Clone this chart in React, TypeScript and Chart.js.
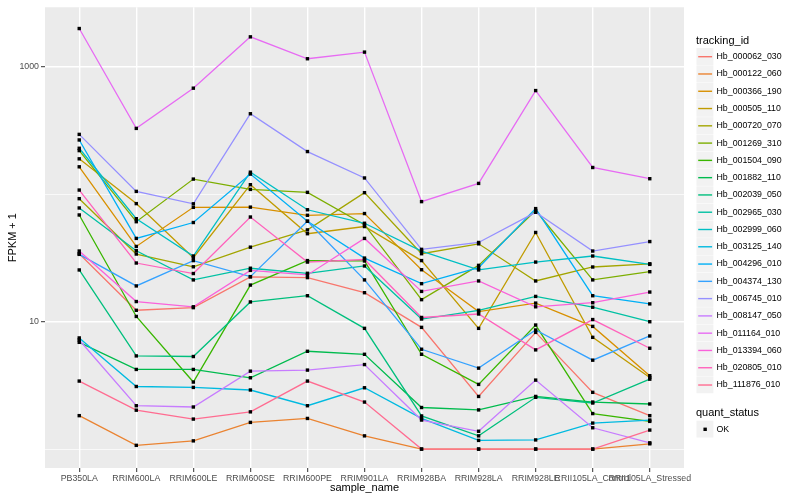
import React, { useEffect, useRef } from "react";
import { Chart, registerables } from "chart.js";

Chart.register(...registerables);

// ---------- data ----------
const sampleNames = [
  "PB350LA", "RRIM600LA", "RRIM600LE", "RRIM600SE", "RRIM600PE", "RRIM901LA",
  "RRIM928BA", "RRIM928LA", "RRIM928LE", "RRII105LA_Control", "RRII105LA_Stressed",
];

const trackingIds = [
  "Hb_000062_030", "Hb_000122_060", "Hb_000366_190", "Hb_000505_110", "Hb_000720_070",
  "Hb_001269_310", "Hb_001504_090", "Hb_001882_110", "Hb_002039_050", "Hb_002965_030",
  "Hb_002999_060", "Hb_003125_140", "Hb_004296_010", "Hb_004374_130", "Hb_006745_010",
  "Hb_008147_050", "Hb_011164_010", "Hb_013394_060", "Hb_020805_010", "Hb_111876_010",
];

const hb000062_030 = [34.2, 12.3, 12.9, 22.5, 22.2, 16.9, 9.03, 2.59, 8.25, 2.79, 1.83];
const hb000122_060 = [1.83, 1.07, 1.16, 1.62, 1.74, 1.27, 1, 1, 1, 1, 1.1];
const hb000366_190 = [164.6, 39.0, 79.1, 79.4, 68.5, 70.7, 25.6, 12.0, 14.0, 9.19, 3.77];
const hb000505_110 = [190.1, 84.6, 31.8, 119.1, 49.1, 55.9, 30.2, 8.87, 50.2, 7.54, 3.65];
const hb000720_070 = [92.5, 34.0, 27.0, 38.5, 52.6, 103.1, 34.2, 40.9, 20.9, 26.9, 28.5];
const hb001269_310 = [220.6, 61.0, 131.8, 109.4, 103.7, 57.8, 14.9, 27.7, 74.6, 21.3, 24.7];
const hb001504_090 = [68.9, 11.0, 3.36, 19.4, 30.2, 30.0, 5.55, 3.22, 9.42, 1.9, 1.65];
const hb001882_110 = [6.89, 4.22, 4.22, 3.63, 5.86, 5.55, 2.12, 2.03, 2.59, 2.34, 2.26];
const hb002039_050 = [25.5, 5.39, 5.33, 14.3, 16.0, 8.87, 1.82, 1.27, 2.55, 2.3, 3.54];
const hb002965_030 = [78.2, 36.1, 21.3, 26.3, 24.0, 27.4, 10.5, 12.3, 15.8, 13.0, 10.0];
const hb002999_060 = [230.1, 64.4, 32.8, 149.3, 75.7, 59.3, 35.9, 25.5, 29.4, 32.8, 28.2];
const hb003125_140 = [7.46, 3.1, 3.05, 2.91, 2.19, 3.03, 1.74, 1.17, 1.18, 1.6, 1.69];
const hb004296_010 = [267.4, 45.1, 60.1, 144.2, 61.5, 31.6, 19.9, 26.6, 77.3, 16.0, 13.8];
const hb004374_130 = [33.8, 19.1, 30.2, 22.6, 61.5, 21.3, 6.08, 4.32, 8.61, 4.99, 7.73];
const hb006745_010 = [295.8, 105.5, 84.3, 429.5, 216.8, 134.5, 37.0, 41.9, 72.3, 35.9, 42.6];
const hb008147_050 = [7.19, 2.19, 2.14, 4.09, 4.17, 4.61, 1.69, 1.38, 3.48, 1.47, 1.12];
const hb011164_010 = [2005, 329.6, 682, 1725, 1161, 1309, 87.7, 121.9, 653, 162.5, 132.7];
const hb013394_060 = [35.9, 14.4, 13.1, 25.3, 23.3, 45.1, 17.3, 20.9, 13.1, 14.1, 17.1];
const hb020805_010 = [108.1, 28.9, 23.9, 66.4, 29.4, 30.8, 10.8, 11.5, 6.01, 10.4, 6.19];
const hb111876_010 = [3.42, 2.02, 1.72, 1.96, 3.42, 2.34, 1, 1, 1, 1, 1.41];

const seriesValues = [
  hb000062_030, hb000122_060, hb000366_190, hb000505_110, hb000720_070,
  hb001269_310, hb001504_090, hb001882_110, hb002039_050, hb002965_030,
  hb002999_060, hb003125_140, hb004296_010, hb004374_130, hb006745_010,
  hb008147_050, hb011164_010, hb013394_060, hb020805_010, hb111876_010,
];

const yGridValues = [1, 10, 100, 1000];
const yTickLabels = ["", "10", "", "1000"];
const quantStatus = ["OK"];

// ---------- styles ----------
const colors = [
  "#F8766D", "#EA8331", "#D89000", "#C09B00", "#A3A500",
  "#7CAE00", "#39B600", "#00BB4E", "#00BF7D", "#00C1A3",
  "#00BFC4", "#00BAE0", "#00B0F6", "#35A2FF", "#9590FF",
  "#C77CFF", "#E76BF3", "#FA62DB", "#FF62BC", "#FF6C91",
];
const FONT = '"Liberation Sans", Arial, Helvetica, sans-serif';
const Y_MIN = 0.7103;
const Y_MAX = 2944;

const panelBg = {
  id: "panelBg",
  beforeDraw(chart: any) {
    const { ctx, chartArea } = chart;
    ctx.save();
    ctx.fillStyle = "#EBEBEB";
    ctx.fillRect(chartArea.left, chartArea.top, chartArea.right - chartArea.left, chartArea.bottom - chartArea.top);
    ctx.restore();
  },
};

const pointsOnTop = {
  id: "pointsOnTop",
  afterDatasetsDraw(chart: any) {
    const ctx = chart.ctx;
    ctx.save();
    ctx.fillStyle = "#000000";
    chart.data.datasets.forEach((_: any, i: number) => {
      const meta = chart.getDatasetMeta(i);
      meta.data.forEach((el: any) => {
        ctx.fillRect(el.x - 1.7, el.y - 1.7, 3.4, 3.4);
      });
    });
    ctx.restore();
  },
};

const decorations = {
  id: "decorations",
  afterDraw(chart: any) {
    const { ctx, chartArea } = chart;
    ctx.save();
    // axis titles
    ctx.fillStyle = "#000000";
    ctx.font = `11px ${FONT}`;
    ctx.textAlign = "center";
    ctx.textBaseline = "middle";
    ctx.fillText("sample_name", (chartArea.left + chartArea.right) / 2, 488);
    ctx.save();
    ctx.translate(12.5, (chartArea.top + chartArea.bottom) / 2);
    ctx.rotate(-Math.PI / 2);
    ctx.fillText("FPKM + 1", 0, 0);
    ctx.restore();

    // legend: tracking_id
    const keyX = 696.5;
    const keySize = 17.28;
    ctx.textAlign = "left";
    ctx.font = `11px ${FONT}`;
    ctx.fillText("tracking_id", 696, 41);
    trackingIds.forEach((id, i) => {
      const cy = 56.7 + i * keySize;
      ctx.fillStyle = "#F2F2F2";
      ctx.fillRect(keyX, cy - keySize / 2, keySize - 0.4, keySize - 0.4);
      ctx.strokeStyle = colors[i];
      ctx.lineWidth = 1.4;
      ctx.beginPath();
      ctx.moveTo(keyX + 1.7, cy);
      ctx.lineTo(keyX + keySize - 1.7, cy);
      ctx.stroke();
      ctx.fillStyle = "#000000";
      ctx.font = `8.8px ${FONT}`;
      ctx.fillText(id, 716.5, cy);
    });

    // legend: quant_status
    ctx.font = `11px ${FONT}`;
    ctx.fillText("quant_status", 696, 412.5);
    quantStatus.forEach((s, i) => {
      const cy = 429.3 + i * keySize;
      ctx.fillStyle = "#F2F2F2";
      ctx.fillRect(keyX, cy - keySize / 2, keySize - 0.4, keySize - 0.4);
      ctx.fillStyle = "#000000";
      ctx.fillRect(keyX + keySize / 2 - 1.7, cy - 1.7, 3.4, 3.4);
      ctx.font = `8.8px ${FONT}`;
      ctx.fillText(s, 716.5, cy);
    });
    ctx.restore();
  },
};

export default function App() {
  const canvasRef = useRef<HTMLCanvasElement>(null);

  useEffect(() => {
    const canvas = canvasRef.current;
    if (!canvas) return;
    const n = trackingIds.length;
    const chart = new Chart(canvas, {
      type: "line",
      data: {
        datasets: trackingIds.map((id, i) => ({
          label: id,
          data: seriesValues[i].map((v, j) => ({ x: j, y: v })),
          borderColor: colors[i],
          backgroundColor: colors[i],
          borderWidth: 1.3,
          pointRadius: 0,
          tension: 0,
          fill: false,
          order: n - i,
        })),
      },
      options: {
        animation: false,
        responsive: false,
        maintainAspectRatio: false,
        layout: { padding: { left: 0, top: 5, right: 116, bottom: 0 } },
        plugins: {
          legend: { display: false },
          tooltip: { enabled: false },
          title: { display: false },
        },
        scales: {
          x: {
            type: "linear",
            min: -0.6,
            max: 10.6,
            bounds: "data",
            afterBuildTicks: (s: any) => {
              s.ticks = sampleNames.map((_, i) => ({ value: i }));
            },
            afterFit: (s: any) => {
              s.height = 32;
            },
            ticks: {
              autoSkip: false,
              maxRotation: 0,
              minRotation: 0,
              padding: 1,
              color: "#4D4D4D",
              font: { size: 8.8, family: FONT },
              callback: (v: any) => sampleNames[v as number] ?? "",
            },
            grid: {
              color: "#FFFFFF",
              lineWidth: 1.4,
              drawTicks: true,
              tickLength: 4,
              tickColor: "#333333",
              tickWidth: 1,
            },
            border: { display: false },
          },
          y: {
            type: "logarithmic",
            min: Y_MIN,
            max: Y_MAX,
            bounds: "data",
            afterBuildTicks: (s: any) => {
              s.ticks = yGridValues.map((v) => ({ value: v }));
            },
            afterFit: (s: any) => {
              s.width = 45;
            },
            ticks: {
              padding: 2,
              color: "#4D4D4D",
              font: { size: 8.8, family: FONT },
              callback: (v: any) => {
                const k = yGridValues.indexOf(v as number);
                return k >= 0 ? yTickLabels[k] : "";
              },
            },
            grid: {
              color: "#FFFFFF",
              lineWidth: (ctx: any) => {
                const k = yGridValues.indexOf(ctx.tick?.value);
                return k >= 0 && yTickLabels[k] !== "" ? 1.4 : 0.7;
              },
              drawTicks: true,
              tickLength: 4,
              tickColor: (ctx: any) => {
                const k = yGridValues.indexOf(ctx.tick?.value);
                return k >= 0 && yTickLabels[k] !== "" ? "#333333" : "rgba(0,0,0,0)";
              },
              tickWidth: 1,
            },
            border: { display: false },
          },
        },
      } as any,
      plugins: [panelBg, pointsOnTop, decorations],
    });
    return () => chart.destroy();
  }, []);

  return (
    <div style={{ position: "absolute", left: 0, top: 0, width: 800, height: 500, background: "#FFFFFF" }}>
      <canvas ref={canvasRef} width={800} height={500} style={{ width: 800, height: 500, display: "block" }} />
    </div>
  );
}
